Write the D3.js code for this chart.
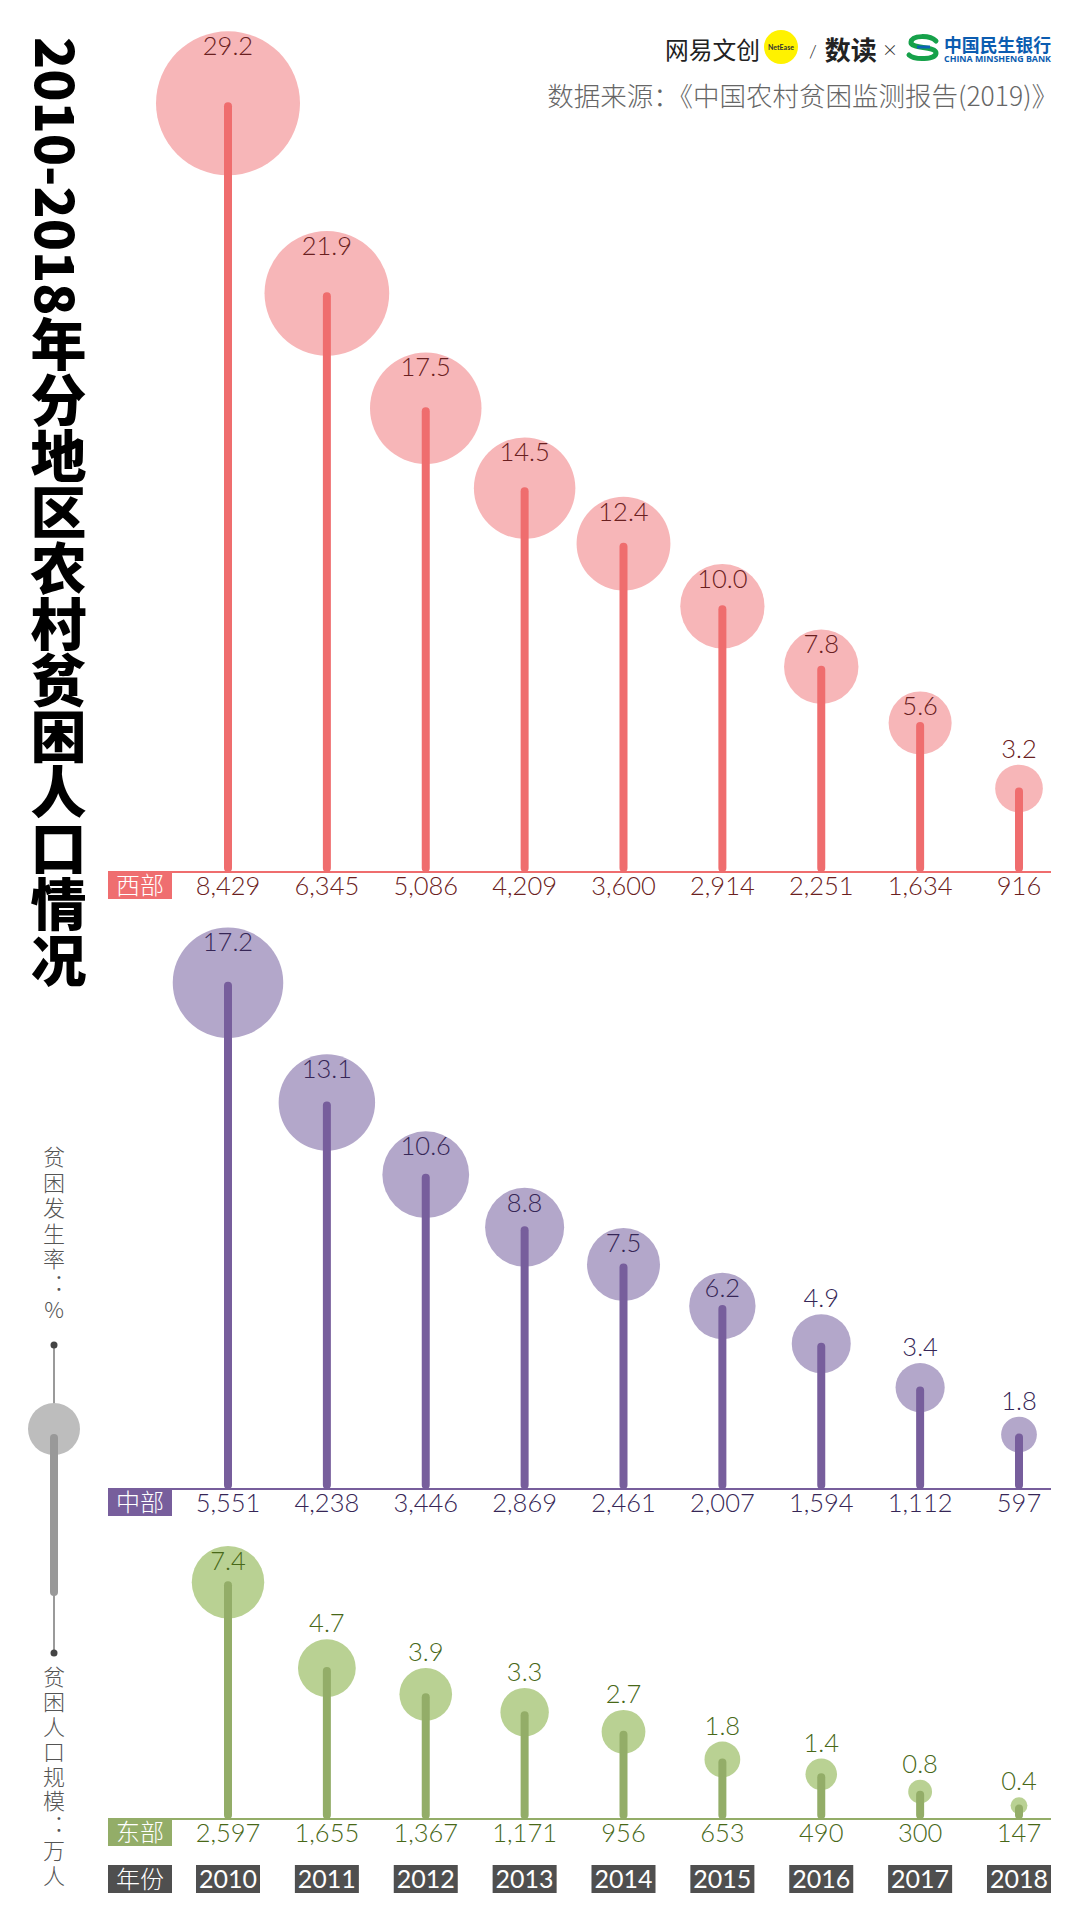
<!DOCTYPE html>
<html><head><meta charset="utf-8">
<script src="https://cdn.jsdelivr.net/npm/d3@7"></script>
<style>
html,body{margin:0;padding:0;background:#fff;}
body{position:relative;}
svg{display:block;}
</style></head>
<body>
<svg id="c" width="1080" height="1921"></svg>
<script>
// ---- data ----
const years = [2010, 2011, 2012, 2013, 2014, 2015, 2016, 2017, 2018];
const westRate = [29.2, 21.9, 17.5, 14.5, 12.4, 10.0, 7.8, 5.6, 3.2];
const westPop  = [8429, 6345, 5086, 4209, 3600, 2914, 2251, 1634, 916];
const midRate  = [17.2, 13.1, 10.6, 8.8, 7.5, 6.2, 4.9, 3.4, 1.8];
const midPop   = [5551, 4238, 3446, 2869, 2461, 2007, 1594, 1112, 597];
const eastRate = [7.4, 4.7, 3.9, 3.3, 2.7, 1.8, 1.4, 0.8, 0.4];
const eastPop  = [2597, 1655, 1367, 1171, 956, 653, 490, 300, 147];
const regionNames = ["西部", "中部", "东部"];
const titleYears = "2010-2018";
const titleRest = "年分地区农村贫困人口情况";
const sourceText = "数据来源：《中国农村贫困监测报告(2019)》";

// ---- layout / style ----
const svg = d3.select("#c");
const x = d3.scalePoint().domain(years).range([228, 1019]);
const h = d3.scaleLinear().domain([0, 10000]).range([0, 912]);
const r = d3.scaleSqrt().domain([0, 29.2]).range([0, 72]);
const numFont = "Lato, 'Noto Sans', sans-serif";
const cjkFont = "'Noto Sans CJK SC', sans-serif";

const panels = [
  {name: regionNames[0], rate: westRate, pop: westPop, base: 872,
   circle: "#f7b6b8", stem: "#ef6d6e", box: "#ef6e70", text: "#6a2020"},
  {name: regionNames[1], rate: midRate, pop: midPop, base: 1489,
   circle: "#b3a7ca", stem: "#775e9c", box: "#775e9c", text: "#362656"},
  {name: regionNames[2], rate: eastRate, pop: eastPop, base: 1819,
   circle: "#b9d193", stem: "#93ad68", box: "#93ad68", text: "#486818"}
];

panels.forEach(p => {
  const g = svg.append("g");
  const data = years.map((y, i) => ({year: y, rate: p.rate[i], pop: p.pop[i]}));
  g.append("line").attr("x1", 108).attr("x2", 1051)
    .attr("y1", p.base).attr("y2", p.base)
    .attr("stroke", p.stem).attr("stroke-width", 2);
  g.append("rect").attr("x", 108).attr("y", p.base).attr("width", 64).attr("height", 27)
    .attr("fill", p.box);
  g.append("text").attr("x", 140).attr("y", p.base + 22).attr("text-anchor", "middle")
    .attr("fill", "#fff")
    .attr("font-family", cjkFont).attr("font-size", 24).attr("font-weight", 300)
    .text(p.name);
  g.selectAll("circle.bub").data(data).join("circle").attr("class", "bub")
    .attr("cx", d => x(d.year)).attr("cy", d => p.base - h(d.pop))
    .attr("r", d => r(d.rate)).attr("fill", p.circle);
  g.selectAll("line.stem").data(data).join("line").attr("class", "stem")
    .attr("x1", d => x(d.year)).attr("x2", d => x(d.year))
    .attr("y1", p.base - 4).attr("y2", d => p.base - h(d.pop) + 3)
    .attr("stroke", p.stem).attr("stroke-width", 8).attr("stroke-linecap", "round");
  g.selectAll("text.rate").data(data).join("text").attr("class", "rate")
    .attr("x", d => x(d.year))
    .attr("y", d => {
      const top = p.base - h(d.pop) - r(d.rate);
      const c = r(d.rate) >= 30 ? top + 15 : top - 16;
      return c + 9;
    })
    .attr("text-anchor", "middle").attr("fill", p.text)
    .attr("font-family", numFont).attr("font-size", 25.5).attr("font-weight", 300)
    .text(d => d3.format(".1f")(d.rate));
  g.selectAll("text.pop").data(data).join("text").attr("class", "pop")
    .attr("x", d => x(d.year)).attr("y", p.base + 23)
    .attr("text-anchor", "middle").attr("fill", p.text)
    .attr("font-family", numFont).attr("font-size", 25.5).attr("font-weight", 300)
    .text(d => d3.format(",")(d.pop));
});

// year row
const yr = svg.append("g");
yr.append("rect").attr("x", 108).attr("y", 1865).attr("width", 64).attr("height", 28).attr("fill", "#4f4f4f");
yr.append("text").attr("x", 140).attr("y", 1888).attr("text-anchor", "middle")
  .attr("fill", "#fff")
  .attr("font-family", cjkFont).attr("font-size", 24).attr("font-weight", 300).text("年份");
yr.selectAll("rect.yb").data(years).join("rect").attr("class", "yb")
  .attr("x", d => x(d) - 32).attr("y", 1865).attr("width", 64).attr("height", 28).attr("fill", "#4f4f4f");
yr.selectAll("text.yt").data(years).join("text").attr("class", "yt")
  .attr("x", d => x(d)).attr("y", 1888).attr("text-anchor", "middle").attr("fill", "#fff")
  .attr("font-family", numFont).attr("font-size", 25).text(d => d);

// title (vertical)
const td = d3.select("body").append("div")
  .style("position", "absolute").style("left", "30px").style("top", "37px")
  .style("writing-mode", "vertical-rl").style("text-orientation", "mixed")
  .style("line-height", "56px").style("font-family", cjkFont)
  .style("font-weight", 900).style("color", "#000").style("white-space", "nowrap");
td.append("span").style("font-size", "53px").text(titleYears);
td.append("span").style("font-size", "56px").text(titleRest);

// legend
const lg = svg.append("g");
lg.append("text").attr("x", 54).attr("y", 1146)
  .attr("style", "writing-mode: vertical-rl; text-orientation: upright;")
  .attr("font-family", cjkFont).attr("font-size", 22).attr("font-weight", 300)
  .attr("letter-spacing", 3.5).attr("fill", "#555").text("贫困发生率：%");
lg.append("line").attr("x1", 54).attr("x2", 54).attr("y1", 1345).attr("y2", 1653)
  .attr("stroke", "#9a9a9a").attr("stroke-width", 2);
lg.append("circle").attr("cx", 54).attr("cy", 1345).attr("r", 3.5).attr("fill", "#444");
lg.append("circle").attr("cx", 54).attr("cy", 1653).attr("r", 3.5).attr("fill", "#444");
lg.append("circle").attr("cx", 54).attr("cy", 1429).attr("r", 26).attr("fill", "#bdbdbd");
lg.append("line").attr("x1", 54).attr("x2", 54).attr("y1", 1438).attr("y2", 1592)
  .attr("stroke", "#999").attr("stroke-width", 8).attr("stroke-linecap", "round");
lg.append("text").attr("x", 54).attr("y", 1666)
  .attr("style", "writing-mode: vertical-rl; text-orientation: upright;")
  .attr("font-family", cjkFont).attr("font-size", 22).attr("font-weight", 300)
  .attr("letter-spacing", 2.8).attr("fill", "#555").text("贫困人口规模：万人");

// header logos
const hd = svg.append("g");
hd.append("circle").attr("cx", 781).attr("cy", 47).attr("r", 17).attr("fill", "#fff200");
hd.append("text").attr("x", 665).attr("y", 59).attr("font-family", cjkFont)
  .attr("font-size", 24).attr("font-weight", 400).attr("fill", "#222")
  .attr("textLength", 95).attr("lengthAdjust", "spacingAndGlyphs").text("网易文创");
hd.append("text").attr("x", 781).attr("y", 50).attr("text-anchor", "middle")
  .attr("font-family", numFont).attr("font-size", 7).attr("font-weight", 700)
  .attr("fill", "#333").text("NetEase");
const sd = hd.append("text").attr("x", 809).attr("y", 60).attr("fill", "#222");
sd.append("tspan").attr("font-family", numFont).attr("font-size", 18).attr("font-weight", 300)
  .attr("dy", -2).text("/");
sd.append("tspan").attr("font-family", cjkFont).attr("font-size", 26).attr("font-weight", 700)
  .attr("dx", 8).attr("dy", 2).text("数读");
hd.append("text").attr("x", 890).attr("y", 58).attr("text-anchor", "middle")
  .attr("font-family", numFont).attr("font-size", 24).attr("font-weight", 300)
  .attr("fill", "#333").text("×");
hd.append("path").attr("d", "M936,41 C930,35 912,35 911,42 C910,49 936,46 936,53 C936,60 914,60 909,55")
  .attr("fill", "none").attr("stroke", "#16a14a").attr("stroke-width", 5).attr("stroke-linecap", "round");
hd.append("path").attr("d", "M917,47 L930,47")
  .attr("fill", "none").attr("stroke", "#0b62b5").attr("stroke-width", 3);
hd.append("text").attr("x", 944).attr("y", 52).attr("font-family", cjkFont)
  .attr("font-size", 18).attr("font-weight", 700).attr("fill", "#0b5cb0")
  .attr("textLength", 107).attr("lengthAdjust", "spacingAndGlyphs").text("中国民生银行");
hd.append("text").attr("x", 944).attr("y", 62).attr("font-family", "'Open Sans', sans-serif")
  .attr("font-size", 8.5).attr("font-weight", 700).attr("fill", "#0b5cb0")
  .attr("textLength", 107).attr("lengthAdjust", "spacingAndGlyphs").text("CHINA MINSHENG BANK");
hd.append("text").attr("x", 1058).attr("y", 106).attr("text-anchor", "end")
  .attr("font-family", cjkFont).attr("font-size", 26.5).attr("font-weight", 300)
  .attr("fill", "#666").text(sourceText);
</script>
</body></html>
